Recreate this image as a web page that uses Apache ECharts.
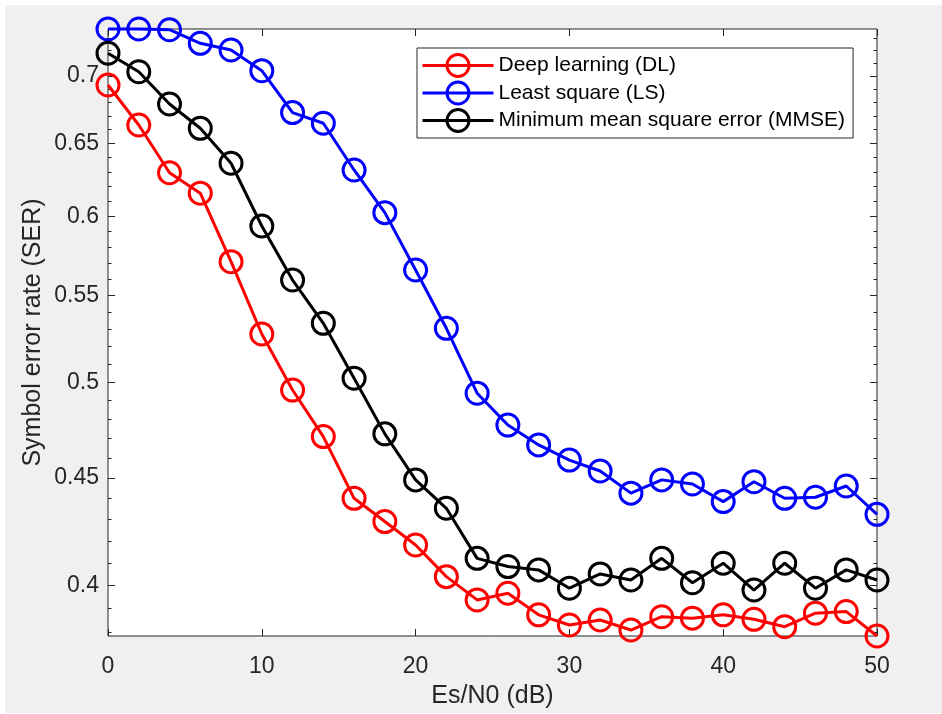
<!DOCTYPE html>
<html>
<head>
<meta charset="utf-8">
<script src="https://cdn.jsdelivr.net/npm/echarts@6/dist/echarts.min.js"></script>
<style>
html,body{margin:0;padding:0;background:#fff;}
#chart{width:942px;height:714px;}
</style>
</head>
<body>
<div id="chart"></div>
<script>
// ---- data ----
const snrDb = [0,2,4,6,8,10,12,14,16,18,20,22,24,26,28,30,32,34,36,38,40,42,44,46,48,50];
const dlSER = [0.6931,0.6633,0.6294,0.6154,0.5708,0.5272,0.4957,0.4710,0.4401,0.4290,0.4181,0.4038,0.3936,0.3965,0.3872,0.3829,0.3850,0.3808,0.3864,0.3858,0.3872,0.3853,0.3822,0.3879,0.3886,0.3783];
const lsSER = [0.7371,0.7371,0.7365,0.7256,0.7203,0.7041,0.6724,0.6646,0.6313,0.6024,0.5656,0.5305,0.4940,0.4770,0.4667,0.4590,0.4535,0.4426,0.4491,0.4471,0.4385,0.4482,0.4401,0.4406,0.4461,0.4324];
const mmseSER = [0.7177,0.7033,0.6788,0.6609,0.6360,0.5936,0.5594,0.5334,0.5022,0.4724,0.4491,0.4353,0.4120,0.4083,0.4068,0.3987,0.4050,0.4023,0.4120,0.4011,0.4098,0.3979,0.4098,0.3987,0.4068,0.4023];
const seriesNames = ['Deep learning (DL)','Least square (LS)','Minimum mean square error (MMSE)'];
const yTickLabels = ['0.4','0.45','0.5','0.55','0.6','0.65','0.7'];
const yMinorTicks = [0.38,0.39,0.41,0.42,0.43,0.44,0.46,0.47,0.48,0.49,0.51,0.52,0.53,0.54,0.56,0.57,0.58,0.59,0.61,0.62,0.63,0.64,0.66,0.67,0.68,0.69,0.71,0.72,0.73];
const xTicks = [0,10,20,30,40,50];

// ---- chart ----
const FONT = 'Liberation Sans, Arial, Helvetica, sans-serif';
const AX = '#262626';
const allVals = dlSER.concat(lsSER, mmseSER);
const yMin = Math.log(Math.min.apply(null, allVals));
const yMax = Math.log(Math.max.apply(null, allVals));
const majorLn = yTickLabels.map(t => Math.log(parseFloat(t)));
const minorLn = yMinorTicks.map(v => Math.log(v));

function yAxisDef(pos, showLabels, ticks, len) {
  return {
    type: 'value', position: pos, min: yMin, max: yMax,
    axisLine: { show: false, onZero: false },
    splitLine: { show: false },
    axisTick: { show: true, inside: true, length: len, customValues: ticks, lineStyle: { color: AX, width: 1 } },
    axisLabel: {
      show: showLabels, customValues: ticks, margin: 9,
      color: AX, fontSize: 23, fontFamily: FONT,
      formatter: function (v) {
        const idx = majorLn.findIndex(m => Math.abs(m - v) < 1e-9);
        return idx >= 0 ? yTickLabels[idx] : '';
      }
    }
  };
}

const colors = ['#ff0000', '#0000ff', '#000000'];
const datasets = [dlSER, lsSER, mmseSER];

const chart = echarts.init(document.getElementById('chart'), null, { renderer: 'canvas' });
chart.setOption({
  animation: false,
  backgroundColor: '#ffffff',
  graphic: { elements: [{ type: 'rect', z: -100, silent: true, shape: { x: 5, y: 5, width: 937, height: 708 }, style: { fill: '#f0f0f0' } }] },
  grid: {
    left: 108, right: 65, top: 29, bottom: 78,
    containLabel: false, outerBoundsMode: 'none',
    show: true, backgroundColor: '#ffffff', borderColor: AX, borderWidth: 1
  },
  legend: {
    show: true, orient: 'vertical', left: 417, top: 48,
    padding: [5, 8, 5, 4], itemGap: 2.5, itemWidth: 71, itemHeight: 27.5,
    backgroundColor: '#ffffff', borderColor: AX, borderWidth: 1, borderRadius: 0,
    textStyle: { fontSize: 21, fontFamily: FONT, color: '#000' },
    itemStyle: { borderWidth: 3 },
    lineStyle: { width: 3 },
    selectedMode: false,
    data: seriesNames
  },
  xAxis: [
    {
      type: 'value', position: 'bottom', min: 0, max: 50, interval: 10,
      name: 'Es/N0 (dB)', nameLocation: 'middle', nameGap: 48, nameMoveOverlap: false,
      nameTextStyle: { fontSize: 25, fontFamily: FONT, color: AX },
      axisLine: { show: false, onZero: false },
      splitLine: { show: false },
      axisTick: { show: true, inside: true, length: 7, customValues: xTicks, lineStyle: { color: AX } },
      axisLabel: { show: true, customValues: xTicks, margin: 19, color: AX, fontSize: 23, fontFamily: FONT, showMinLabel: true, showMaxLabel: true }
    },
    {
      type: 'value', position: 'top', min: 0, max: 50, interval: 10,
      axisLine: { show: false, onZero: false },
      splitLine: { show: false },
      axisTick: { show: true, inside: true, length: 7, customValues: xTicks, lineStyle: { color: AX } },
      axisLabel: { show: false }
    }
  ],
  yAxis: [
    Object.assign(yAxisDef('left', true, majorLn, 7), {
      name: 'Symbol error rate (SER)', nameLocation: 'middle', nameGap: 62, nameMoveOverlap: false,
      nameTextStyle: { fontSize: 25, fontFamily: FONT, color: AX }
    }),
    yAxisDef('right', false, majorLn, 7),
    yAxisDef('left', false, minorLn, 3.5),
    yAxisDef('right', false, minorLn, 3.5)
  ],
  series: datasets.map((arr, k) => ({
    name: seriesNames[k], type: 'line', xAxisIndex: 0, yAxisIndex: 0,
    data: snrDb.map((x, i) => [x, Math.log(arr[i])]),
    clip: false,
    symbol: 'circle', symbolSize: 22, showAllSymbol: true,
    lineStyle: { color: colors[k], width: 3 },
    itemStyle: { color: 'rgba(0,0,0,0)', borderColor: colors[k], borderWidth: 3 },
    emphasis: { disabled: true },
    z: 2 + k
  }))
});
</script>
</body>
</html>
